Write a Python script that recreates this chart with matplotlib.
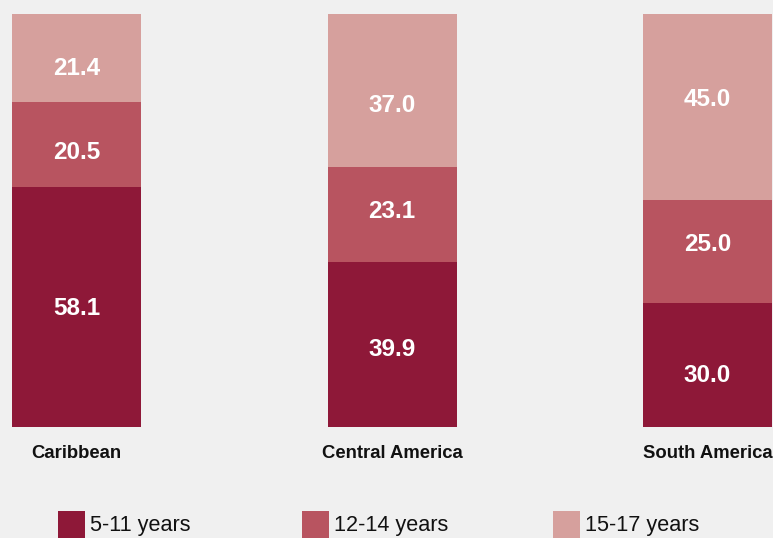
import matplotlib.pyplot as plt
from matplotlib.patches import Rectangle
import numpy as np

regions = ["Caribbean", "Central America", "South America"]
series = ["5-11 years", "12-14 years", "15-17 years"]
age_5_11 = [58.1, 39.9, 30.0]
age_12_14 = [20.5, 23.1, 25.0]
age_15_17 = [21.4, 37.0, 45.0]

colors = ["#8E1838", "#B85460", "#D6A09D"]
bg = "#F0F0F0"

# label placement in the source is not exactly centred; pixel nudges (down = +)
nudges = [[0, 4, 9],
          [7, -4, -8],
          [9, 14, -8]]

W, H = 773, 538
fig = plt.figure(figsize=(W / 100, H / 100), dpi=100, facecolor=bg)

# axes spans the bar area in pixel terms
ax = fig.add_axes([0, (H - 427) / H, 1, 413 / H])
ax.set_facecolor(bg)

step = 315.5
x = np.arange(len(regions))
width = 129 / step

bottom = np.zeros(len(regions))
for k, (vals, c) in enumerate(zip([age_5_11, age_12_14, age_15_17], colors)):
    vals = np.array(vals)
    ax.bar(x, vals, width=width, bottom=bottom, color=c, linewidth=0)
    for xi, b, v, dy in zip(x, bottom, vals, nudges[k]):
        ax.annotate(f"{v:.1f}", xy=(xi, b + v / 2), xytext=(0, -dy - 1),
                    textcoords="offset pixels", ha="center", va="center",
                    color="white", fontsize=17.5, fontweight="bold",
                    family="Liberation Sans")
    bottom += vals

ax.set_xlim(-76.5 / step, (W - 76.5) / step)
ax.set_ylim(0, 100)
ax.axis("off")

# category labels under the bars
for xi, name in zip(x, regions):
    ax.annotate(name, xy=(xi, 0), xytext=(0, -27), textcoords="offset pixels",
                ha="center", va="center", fontsize=13.3, fontweight="bold",
                family="Liberation Sans", color="#111111")

# legend drawn by hand at the bottom
leg_x = [58, 302, 553]
for lx, name, c in zip(leg_x, series, colors):
    fig.add_artist(Rectangle((lx / W, 0), 27 / W, (538 - 511) / H,
                             transform=fig.transFigure, color=c, lw=0))
    fig.text((lx + 32) / W, (H - 526) / H, name, ha="left", va="center",
             fontsize=15.6, family="Liberation Sans", color="#111111")

fig.savefig("out.png", dpi=100, facecolor=bg)
